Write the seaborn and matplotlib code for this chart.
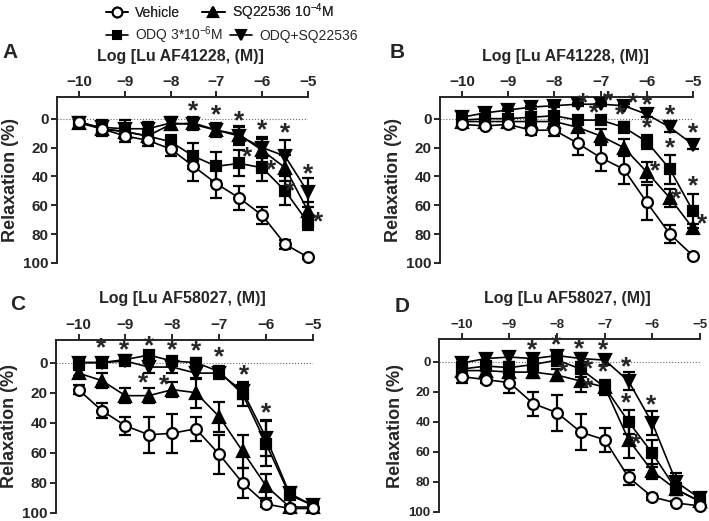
import pandas as pd
import seaborn as sns
import matplotlib.pyplot as plt
from matplotlib.lines import Line2D

# log concentration (M)
log_conc = [-10, -9.5, -9, -8.5, -8, -7.5, -7, -6.5, -6, -5.5, -5]

# Panel A - Lu AF41228
a_veh = [2, 7, 12, 15, 21, 33, 45, 55, 67, 87, 96]
a_veh_err = [2, 4, 4, 4, 5, 10, 10, 8, 6, 3, 1]
a_odq = [2, 7, 9, 12, 16, 26, 33, 31, 34, 50, 72]
a_odq_err = [2, 5, 5, 5, 5, 9, 10, 9, 9, 10, 5]
a_sq = [3, 7, 9, 12, 4, 3, 8, 11, 22, 34, 64]
a_sq_err = [2, 4, 5, 5, 4, 4, 4, 6, 8, 9, 6]
a_osq = [3, 6, 7, 7, 3, 4, 8, 12, 20, 26, 51]
a_osq_err = [2, 5, 6, 5, 4, 4, 5, 6, 7, 11, 10]

# Panel B - Lu AF41228
b_veh = [4, 5, 4, 8, 8, 17, 27, 35, 58, 80, 95]
b_veh_err = [1, 1, 1, 3, 4, 8, 9, 10, 12, 6, 1]
b_odq = [1, 0, 0, -1, -2, 1, 1, 6, 16, 35, 64]
b_odq_err = [1, 1, 2, 2, 2, 2, 2, 4, 5, 10, 12]
b_sq = [2, 2, 2, 2, 2, 6, 12, 20, 37, 55, 76]
b_sq_err = [1, 1, 1, 2, 2, 3, 5, 6, 7, 6, 3]
b_osq = [-1, -4, -6, -8, -9, -10, -10, -9, -3, 6, 18]
b_osq_err = [1, 1, 1, 1, 1, 1, 1, 1, 2, 3, 3]

# Panel C - Lu AF58027
c_veh = [18, 32, 42, 48, 47, 44, 61, 80, 94, 97, 97]
c_veh_err = [3, 5, 6, 12, 13, 8, 13, 10, 2, 1, 1]
c_odq = [0, 0, -2, -5, -1, 0, 6, 21, 54, 88, 95]
c_odq_err = [1, 2, 2, 3, 3, 3, 4, 8, 15, 2, 1]
c_sq = [7, 12, 22, 22, 18, 20, 36, 59, 82, 96, 96]
c_sq_err = [2, 5, 5, 5, 5, 10, 10, 11, 8, 1, 1]
c_osq = [0, 0, -1, 3, 3, 7, 7, 19, 50, 87, 95]
c_osq_err = [1, 3, 3, 4, 4, 4, 4, 5, 12, 2, 1]

# Panel D - Lu AF58027
d_veh = [10, 12, 14, 28, 34, 47, 52, 77, 90, 94, 96]
d_veh_err = [4, 2, 7, 8, 12, 12, 8, 5, 2, 1, 1]
d_odq = [5, 3, 4, 2, -1, 5, 17, 40, 61, 85, 93]
d_odq_err = [5, 3, 4, 4, 4, 5, 5, 8, 9, 4, 2]
d_sq = [6, 6, 7, 7, 9, 13, 17, 52, 73, 85, 93]
d_sq_err = [4, 3, 4, 4, 4, 7, 4, 12, 5, 4, 2]
d_osq = [1, -2, -3, -2, -4, -2, -1, 13, 41, 80, 91]
d_osq_err = [3, 3, 3, 3, 3, 4, 3, 6, 8, 6, 2]

# significance marks (x, y)
a_stars = [(-7.5, -5), (-7, -2.5), (-6.5, 1.5), (-6, 8), (-5.5, 10.5), (-5, 38.5),
           (-6.33, 27), (-5.8, 35.5), (-5.39, 50), (-4.78, 72)]
b_stars = [(-7.38, -10.6), (-6.83, -12), (-6.29, -10.6), (-6.0, -9.4), (-5.49, -2.5), (-5, 10),
           (-7.14, -3.7), (-6.57, -2.5), (-6, 6.7), (-5.5, 20.5), (-5, 47),
           (-5.83, 36.6), (-5.36, 55.8), (-4.8, 73.5)]
c_stars = [(-9.52, -9.5), (-9.02, -8.4), (-8.49, -11), (-8, -8.4), (-7.49, -7.3), (-7.01, -3.5),
           (-6.47, 8.6), (-6, 34), (-8.63, 13.7), (-8.18, 15)]
d_stars = [(-8.52, -7.7), (-8.03, -10.6), (-7.54, -8), (-7.04, -7.3), (-6.55, 3.8), (-6.02, 29),
           (-7.87, 7), (-7.34, 4.9), (-7.34, 18), (-7.04, 7), (-6.55, 28), (-6.35, 55)]

sns.set_style('ticks')
plt.rcParams['font.family'] = ['Liberation Sans', 'DejaVu Sans']
plt.rcParams['mathtext.fontset'] = 'custom'
plt.rcParams['mathtext.rm'] = 'Liberation Sans'

W, H = 709, 521
fig = plt.figure(figsize=(W / 100, H / 100), dpi=100)

# marker style for each series
styles = {
    'ODQ': dict(marker='s', mfc='k', ms=6.8),
    'SQ': dict(marker='^', mfc='k', ms=8),
    'ODQ+SQ': dict(marker='v', mfc='k', ms=8),
    'Vehicle': dict(marker='o', mfc='white', ms=7.8),
}


def px_axes(left, right, top, bottom):
    return fig.add_axes([left / W, 1 - bottom / H, (right - left) / W, (bottom - top) / H])


def draw_panel(ax, series, stars, title, letter, letter_xy, title_xy, tsize=11):
    for name, (vals, err) in series.items():
        st = styles[name]
        ax.errorbar(log_conc, vals, yerr=err, fmt='none', ecolor='k', elinewidth=1.6,
                    capsize=4, capthick=1.6, clip_on=False, zorder=2)
        df = pd.DataFrame({'logc': log_conc, 'relax': vals})
        sns.lineplot(data=df, x='logc', y='relax', ax=ax, color='k', lw=1.2,
                     marker=st['marker'], markersize=st['ms'], markerfacecolor=st['mfc'],
                     markeredgecolor='k', markeredgewidth=1.6, clip_on=False,
                     errorbar=None, zorder=3)
    for sx, sy in stars:
        ax.text(sx, sy, '*', fontsize=19, fontweight='bold', ha='center', va='center',
                clip_on=False, zorder=4)
    ax.axhline(0, color='#666666', ls=':', lw=0.8, zorder=1)
    ax.set_xlim(-10.48, -5)
    ax.set_ylim(100, -15)
    ax.set_xticks(range(-10, -4))
    ax.set_yticks(range(0, 101, 20))
    ax.xaxis.tick_top()
    for s in ['right', 'bottom']:
        ax.spines[s].set_visible(False)
    for s in ['left', 'top']:
        ax.spines[s].set_linewidth(1.4)
    ax.tick_params(direction='out', length=4, width=1.4, labelsize=tsize, pad=2)
    for lab in ax.get_xticklabels() + ax.get_yticklabels():
        lab.set_fontweight('bold')
    ax.set_xlabel('')
    ax.set_ylabel('Relaxation (%)', fontsize=13, fontweight='bold', labelpad=3)
    fig.text(title_xy[0] / W, 1 - title_xy[1] / H, title, fontsize=11.5,
             fontweight='bold', ha='center', va='center')
    fig.text(letter_xy[0] / W, 1 - letter_xy[1] / H, letter, fontsize=15,
             fontweight='bold', ha='center', va='center')


ax_a = px_axes(57, 308, 97, 263)
draw_panel(ax_a, {'ODQ': (a_odq, a_odq_err), 'SQ': (a_sq, a_sq_err),
                  'ODQ+SQ': (a_osq, a_osq_err), 'Vehicle': (a_veh, a_veh_err)},
           a_stars, 'Log [Lu AF41228, (M)]', 'A', (10, 53), (180, 57))

ax_b = px_axes(440, 693, 97, 263)
draw_panel(ax_b, {'ODQ': (b_odq, b_odq_err), 'SQ': (b_sq, b_sq_err),
                  'ODQ+SQ': (b_osq, b_osq_err), 'Vehicle': (b_veh, b_veh_err)},
           b_stars, 'Log [Lu AF41228, (M)]', 'B', (397, 53), (565, 57))

ax_c = px_axes(56, 313, 340, 513)
draw_panel(ax_c, {'ODQ': (c_odq, c_odq_err), 'SQ': (c_sq, c_sq_err),
                  'ODQ+SQ': (c_osq, c_osq_err), 'Vehicle': (c_veh, c_veh_err)},
           c_stars, 'Log [Lu AF58027, (M)]', 'C', (18, 305), (182, 299))

ax_d = px_axes(439, 700, 339, 512)
draw_panel(ax_d, {'ODQ': (d_odq, d_odq_err), 'SQ': (d_sq, d_sq_err),
                  'ODQ+SQ': (d_osq, d_osq_err), 'Vehicle': (d_veh, d_veh_err)},
           d_stars, 'Log [Lu AF58027, (M)]', 'D', (402, 306), (567, 299), tsize=9.5)

# legend (two rows, like the original)
def handle(name):
    st = styles[name]
    return Line2D([], [], color='k', lw=1.2, marker=st['marker'], markersize=st['ms'] - 0.8,
                  markerfacecolor=st['mfc'], markeredgecolor='k', markeredgewidth=1.5)


leg_kw = dict(ncol=2, frameon=False, fontsize=10, handlelength=1.6, handletextpad=0.5,
              columnspacing=1.6, loc='upper left', borderaxespad=0, borderpad=0)
leg1 = fig.legend([handle('Vehicle'), handle('SQ')],
                  ['Vehicle', 'SQ22536 10$^{-4}$M'],
                  bbox_to_anchor=(106 / W, 1 - 1 / H), **leg_kw)
fig.add_artist(leg1)
fig.legend([handle('ODQ'), handle('ODQ+SQ')],
           ['ODQ 3*10$^{-6}$M', 'ODQ+SQ22536'],
           bbox_to_anchor=(106 / W, 1 - 24 / H), **dict(leg_kw, columnspacing=0.5))

fig.savefig('out.png', dpi=100)
